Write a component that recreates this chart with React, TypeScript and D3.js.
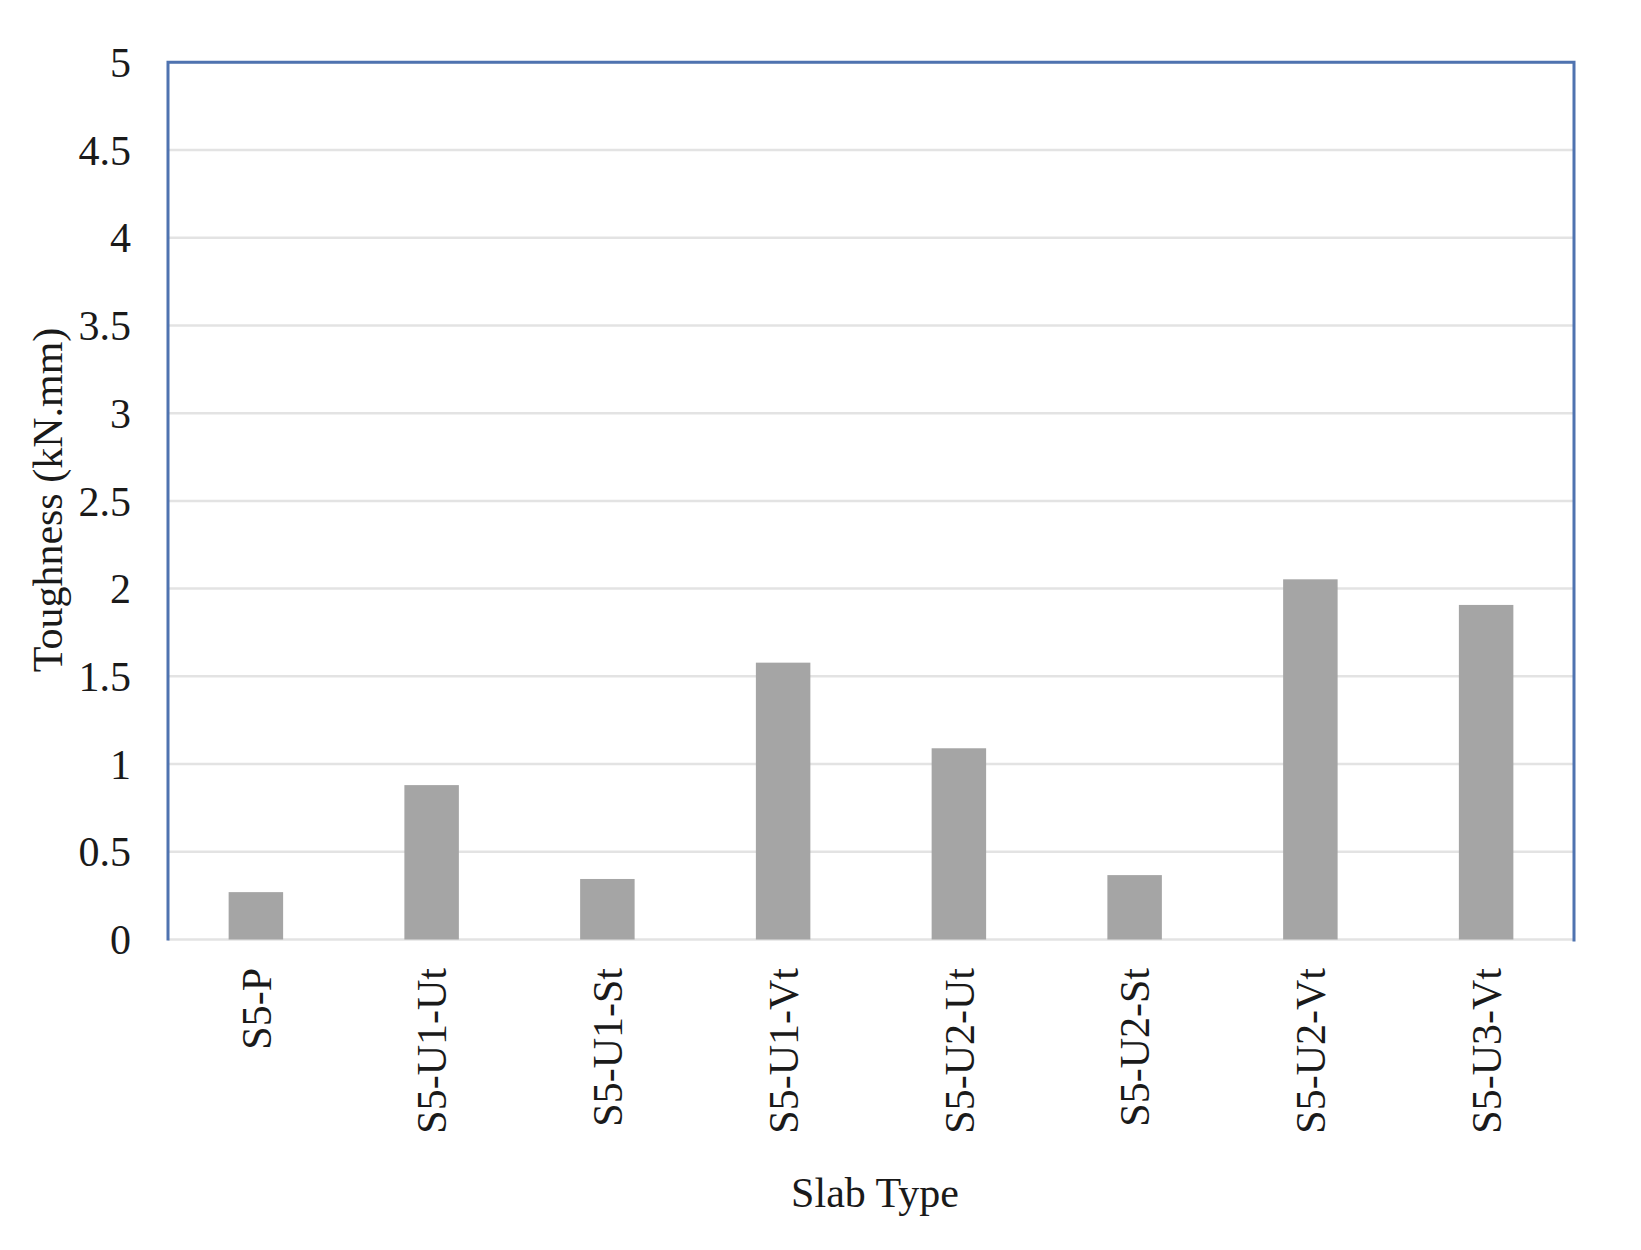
import React from 'react';
import * as d3 from 'd3';

const slabTypes = ['S5-P', 'S5-U1-Ut', 'S5-U1-St', 'S5-U1-Vt', 'S5-U2-Ut', 'S5-U2-St', 'S5-U2-Vt', 'S5-U3-Vt'];
const toughness = [0.27, 0.88, 0.345, 1.578, 1.09, 0.367, 2.053, 1.907];
const yTicks = [0, 0.5, 1, 1.5, 2, 2.5, 3, 3.5, 4, 4.5, 5];

const W = 1641;
const H = 1250;
const left = 168;
const right = 1574;
const top = 62.3;
const bottom = 939.5;
const font = '"Liberation Serif", "Times New Roman", serif';

export default function App() {
    const x = d3
        .scaleBand<string>()
        .domain(slabTypes)
        .range([left, right])
        .paddingInner(0.69)
        .paddingOuter(0.345);
    const y = d3.scaleLinear().domain([0, 5]).range([bottom, top]);

    return (
        <svg
            width={W}
            height={H}
            style={{ position: 'absolute', left: 0, top: 0, background: '#fff' }}
            fontFamily={font}
        >
            {/* gridlines */}
            {yTicks.map((t) => (
                <line
                    key={'g' + t}
                    x1={left}
                    x2={right}
                    y1={y(t)}
                    y2={y(t)}
                    stroke="#e3e3e3"
                    strokeWidth={2.5}
                />
            ))}

            {/* bars */}
            {slabTypes.map((s, i) => (
                <rect
                    key={s}
                    x={x(s)}
                    y={y(toughness[i])}
                    width={x.bandwidth()}
                    height={bottom - y(toughness[i])}
                    fill="#a5a5a5"
                />
            ))}

            {/* frame: blue top, left, right */}
            <path
                d={`M${left},${bottom + 1}V${top}H${right}V${bottom + 2}`}
                fill="none"
                stroke="#4f73b0"
                strokeWidth={3}
            />

            {/* y tick labels */}
            {yTicks.map((t) => (
                <text
                    key={'t' + t}
                    x={131}
                    y={y(t)}
                    dy="0.35em"
                    textAnchor="end"
                    fontSize={42}
                    fill="#1a1a1a"
                >
                    {d3.format('~g')(t)}
                </text>
            ))}

            {/* x tick labels */}
            {slabTypes.map((s) => (
                <text
                    key={'x' + s}
                    transform={`translate(${x(s)! + x.bandwidth() / 2},968) rotate(-90)`}
                    dy="0.35em"
                    textAnchor="end"
                    fontSize={42}
                    fill="#1a1a1a"
                >
                    {s}
                </text>
            ))}

            {/* axis titles */}
            <text
                transform={`translate(62,500) rotate(-90)`}
                textAnchor="middle"
                fontSize={42}
                fill="#1a1a1a"
            >
                Toughness (kN.mm)
            </text>
            <text x={875} y={1207} textAnchor="middle" fontSize={42} fill="#1a1a1a">
                Slab Type
            </text>
        </svg>
    );
}
